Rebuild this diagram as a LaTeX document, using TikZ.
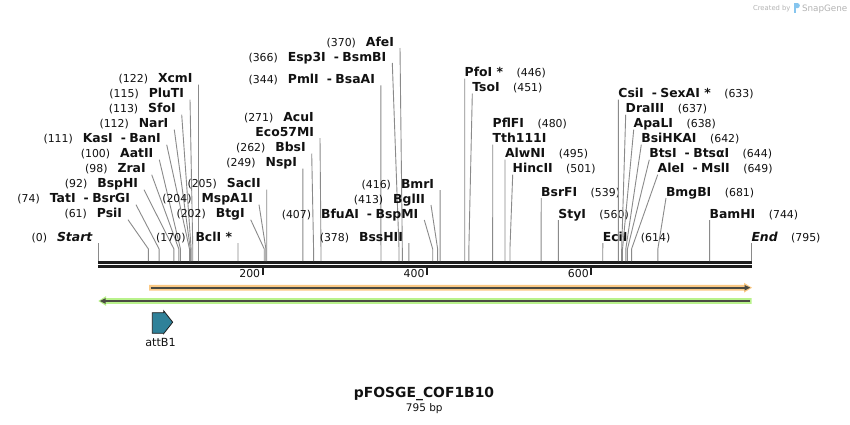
\documentclass[tikz,border=0pt]{standalone}
\usepackage{fontspec}
\setmainfont{DejaVu Sans}
\definecolor{ink}{HTML}{111111}
\definecolor{bbone}{HTML}{1E1E1E}
\definecolor{connc}{HTML}{8A8A8A}
\definecolor{orgF}{HTML}{FBC985}
\definecolor{grnF}{HTML}{B9F28C}
\definecolor{fline}{HTML}{4A4A42}
\definecolor{attc}{HTML}{2F8199}
\definecolor{wm}{HTML}{B4B4B4}
\definecolor{logoc}{HTML}{86C5EE}
\newcommand\nm[1]{{\fontsize{12.4}{14}\selectfont\bfseries #1}}
\newcommand\nb[1]{{\fontsize{10.9}{13}\selectfont #1}}
\newcommand\lgap{\hspace{10pt}}
\newcommand\rgap{\hspace{13.5pt}}
\newcommand\dsh{\hspace{8pt}-\hspace{3.5pt}}
\tikzset{
  lab/.style={inner sep=0pt, outer sep=0pt, text=ink},
  conn/.style={draw=connc, line width=0.9pt},
  tick/.style={draw=bbone, line width=1.8pt},
  bbl/.style={draw=bbone},
  fl/.style={draw=fline, line width=1.6pt},
}
% left-hand label: id, attach x, baseline, bp, text
\newcommand\Lsite[5]{%
  \node[lab,anchor=base east] (#1) at ({#2-6},#3) {#5};
  \coordinate (#1a) at ([shift={(6,2)}]#1.base east);
  \coordinate (#1k) at ({98.3+#4*0.82164},249);
  \coordinate (#1s) at ({98.3+#4*0.82164},261);
  \draw[conn] (#1a) -- (#1k) -- (#1s);}
% right-hand label: id, attach x, baseline, bp, text
\newcommand\Rsite[5]{%
  \node[lab,anchor=base west] (#1) at (#2,#3) {#5};
  \coordinate (#1a) at ([shift={(0,2)}]#1.base west);
  \coordinate (#1k) at ({98.3+#4*0.82164},249);
  \coordinate (#1s) at ({98.3+#4*0.82164},261);
  \draw[conn] (#1a) -- (#1k) -- (#1s);}
\begin{document}
\begin{tikzpicture}[x=1pt,y=-1pt]
\fill[white] (0,0) rectangle (850,424);
\path[use as bounding box] (0,0) rectangle (850,424);

% watermark
\node[lab,anchor=base east,text=wm] (wm1) at (790.5,10.5) {\fontsize{6.8}{8}\selectfont Created by};
\fill[logoc] (793.8,3) rectangle (795.8,12.5);
\fill[logoc] (795.8,3) -- (797.3,3) to[out=0,in=90] (799.8,5.6) to[out=-90,in=0] (797.3,8.2) -- (795.8,8.2) -- cycle;
\node[lab,anchor=base west,text=wm] (wm2) at (802,11) {\fontsize{8.8}{10}\selectfont SnapGene};

% backbone
\coordinate (b0) at (98.3,262.3);
\coordinate (b1) at (751.5,262.3);
\coordinate (c0) at (98.3,266.6);
\coordinate (c1) at (751.5,266.6);
\draw[bbl,line width=3pt] (b0) -- (b1);
\draw[bbl,line width=2.3pt] (c0) -- (c1);

% ticks
\foreach \v/\n in {200/t2,400/t4,600/t6}{
  \coordinate (\n a) at ({98.3+\v*0.82164},266);
  \coordinate (\n b) at ({98.3+\v*0.82164},275);
  \draw[tick] (\n a) -- (\n b);
  \node[lab,anchor=base east] (\n) at ({98.3+\v*0.82164-2.5},277.5) {\nb{\v}};
}

% features
\fill[orgF] (149,284.8) -- (744,284.8) -- (744,282.8) -- (752,287.7) -- (744,292.6) -- (744,290.6) -- (149,290.6) -- cycle;
\draw[fl] (150.5,287.7) -- (746,287.7);
\fill[fline] (744.5,284.9) -- (750.2,287.7) -- (744.5,290.5) -- cycle;

\fill[grnF] (751.7,298.1) -- (106,298.1) -- (106,296.1) -- (98.3,301) -- (106,305.9) -- (106,303.9) -- (751.7,303.9) -- cycle;
\draw[fl] (750,301) -- (103.5,301);
\fill[fline] (105.5,298.2) -- (99.8,301) -- (105.5,303.8) -- cycle;

% attB1
\filldraw[fill=attc,draw=bbone,line width=0.8pt] (152.3,312.7) -- (163.7,312.7) -- (163.7,310.8) -- (172.7,322.2) -- (163.7,333.6) -- (163.7,333.3) -- (152.3,333.3) -- cycle;
\node[lab,anchor=base] (att) at (160.5,346.5) {\fontsize{11.2}{13}\selectfont attB1};

% title
\node[lab,anchor=base] (title) at (424,397.7) {\fontsize{13.9}{16}\selectfont\bfseries pFOSGE\_COF1B10};
\node[lab,anchor=base] (len) at (424.3,411.3) {\fontsize{10.5}{12}\selectfont 795 bp};

% left group
\Lsite{start}{98.3}{241}{0}{\nb{(0)}\lgap\nm{\itshape Start}}
\Lsite{psi}{128}{217.7}{61}{\nb{(61)}\lgap\nm{PsiI}}
\Lsite{tat}{136}{202.7}{74}{\nb{(74)}\lgap\nm{TatI\dsh BsrGI}}
\Lsite{bsph}{144}{187.7}{92}{\nb{(92)}\lgap\nm{BspHI}}
\Lsite{zra}{151.7}{172.7}{98}{\nb{(98)}\lgap\nm{ZraI}}
\Lsite{aat}{159.3}{157.7}{100}{\nb{(100)}\lgap\nm{AatII}}
\Lsite{kas}{166.7}{142.7}{111}{\nb{(111)}\lgap\nm{KasI\dsh BanI}}
\Lsite{nar}{174.3}{127.7}{112}{\nb{(112)}\lgap\nm{NarI}}
\Lsite{sfo}{181.7}{112.7}{113}{\nb{(113)}\lgap\nm{SfoI}}
\Lsite{plu}{190}{97.7}{115}{\nb{(115)}\lgap\nm{PluTI}}
\Lsite{xcm}{198.5}{82.7}{122}{\nb{(122)}\lgap\nm{XcmI}}

% middle-left group
\Lsite{bcl}{238}{241}{170}{\nb{(170)}\lgap\nm{BclI *}}
\Lsite{btg}{250.7}{217.7}{202}{\nb{(202)}\lgap\nm{BtgI}}
\Lsite{msp}{259}{202.7}{204}{\nb{(204)}\lgap\nm{MspA1I}}
\Lsite{sac}{266.7}{187.7}{205}{\nb{(205)}\lgap\nm{SacII}}

% middle group
\Lsite{nsp}{302.9}{166.5}{249}{\nb{(249)}\lgap\nm{NspI}}
\Lsite{bbs}{311.7}{151.5}{262}{\nb{(262)}\lgap\nm{BbsI}}
\Lsite{eco}{320}{136.2}{271}{\nm{Eco57MI}}
\node[lab,anchor=base east] (acu) at (313.7,121.2) {\nb{(271)}\lgap\nm{AcuI}};
\Lsite{pml}{380.9}{83.3}{344}{\nb{(344)}\lgap\nm{PmlI\dsh BsaAI}}
\Lsite{esp}{392.3}{61}{366}{\nb{(366)}\lgap\nm{Esp3I\dsh BsmBI}}
\Lsite{afe}{400}{46}{370}{\nb{(370)}\lgap\nm{AfeI}}
\Lsite{bss}{408.9}{241}{378}{\nb{(378)}\lgap\nm{BssHII}}
\Lsite{bfu}{424.3}{218}{407}{\nb{(407)}\lgap\nm{BfuAI\dsh BspMI}}
\Lsite{bgl}{431}{203}{413}{\nb{(413)}\lgap\nm{BglII}}
\Lsite{bmr}{440.1}{188}{416}{\nb{(416)}\lgap\nm{BmrI}}

% right group
\Rsite{pfo}{464.7}{76.7}{446}{\nm{PfoI *}\rgap\nb{(446)}}
\Rsite{tso}{472.3}{91.7}{451}{\nm{TsoI}\rgap\nb{(451)}}
\node[lab,anchor=base west] (pfl) at (492.7,127.7) {\nm{PflFI}\rgap\nb{(480)}};
\Rsite{tth}{492.7}{142.7}{480}{\nm{Tth111I}}
\Rsite{alw}{505}{157.7}{495}{\nm{AlwNI}\rgap\nb{(495)}}
\Rsite{hinc}{512.7}{172.7}{501}{\nm{HincII}\rgap\nb{(501)}}
\Rsite{bsrf}{541.2}{196}{539}{\nm{BsrFI}\rgap\nb{(539)}}
\Rsite{sty}{558.4}{218}{560}{\nm{StyI}\rgap\nb{(560)}}
\Rsite{eci}{602.8}{241}{614}{\nm{EciI}\rgap\nb{(614)}}
\Rsite{csi}{618.4}{97.7}{633}{\nm{CsiI\dsh SexAI *}\rgap\nb{(633)}}
\Rsite{dra}{625.7}{112.7}{637}{\nm{DraIII}\rgap\nb{(637)}}
\Rsite{apa}{633.7}{127.7}{638}{\nm{ApaLI}\rgap\nb{(638)}}
\Rsite{bsih}{641.3}{142.7}{642}{\nm{BsiHKAI}\rgap\nb{(642)}}
\Rsite{bts}{649.3}{157.7}{644}{\nm{BtsI\dsh BtsαI}\rgap\nb{(644)}}
\Rsite{ale}{657.7}{172.7}{649}{\nm{AleI\dsh MslI}\rgap\nb{(649)}}
\Rsite{bmg}{666}{196}{681}{\nm{BmgBI}\rgap\nb{(681)}}
\Rsite{bam}{709.6}{218}{744}{\nm{BamHI}\rgap\nb{(744)}}
\Rsite{endl}{751.5}{241}{795}{\nm{\itshape End}\rgap\nb{(795)}}
\end{tikzpicture}
\end{document}
